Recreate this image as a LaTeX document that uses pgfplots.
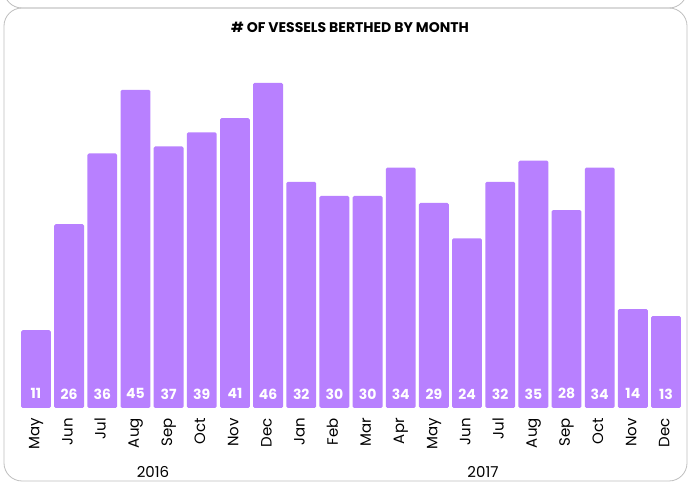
\documentclass[border=0pt]{standalone}
\usepackage{pgfplots}
\pgfplotsset{compat=1.18}
\usepackage{fontspec}
\setmainfont{Poppins}
\definecolor{barc}{RGB}{184,128,255}
\definecolor{frame}{RGB}{190,190,190}
\begin{document}
\begin{tikzpicture}[x=1pt,y=1pt]
\useasboundingbox (0,0) rectangle (689,482);
\begin{scope}
\clip (0,0) rectangle (689,482);
\draw[frame, line width=0.8pt, rounded corners=18pt] (4,474) rectangle (687,560);
\draw[frame, line width=0.8pt, rounded corners=18pt] (4,1) rectangle (687,474);
\end{scope}
\node[font=\bfseries\fontsize{14}{16}\selectfont] at (350,455) {\# OF VESSELS BERTHED BY MONTH};
\begin{axis}[
  at={(19.4pt,74pt)}, anchor=south west,
  scale only axis, width=663.2pt, height=353.5pt,
  xmin=-0.5, xmax=19.5, ymin=0, ymax=50,
  axis line style={draw=none},
  ymajorticks=false,
  xtick={0,...,19},
  xticklabels={May,Jun,Jul,Aug,Sep,Oct,Nov,Dec,Jan,Feb,Mar,Apr,May,Jun,Jul,Aug,Sep,Oct,Nov,Dec},
  xtick style={draw=none},
  xticklabel style={rotate=90, anchor=east, font=\fontsize{15}{17}\selectfont, inner sep=0pt},
  xticklabel shift=10pt,
  major tick length=0pt,
  typeset ticklabels with strut=false,
  clip=false,
]
\addplot[ybar, bar width=0.9, fill=barc, draw=none, rounded corners=1.5pt] coordinates {
(0,11) (1,26) (2,36) (3,45) (4,37) (5,39) (6,41) (7,46)
(8,32) (9,30) (10,30) (11,34) (12,29) (13,24) (14,32) (15,35) (16,28) (17,34) (18,14) (19,13)
};
\addplot[only marks, mark=none, point meta=explicit symbolic,
  nodes near coords={\pgfplotspointmeta}, nodes near coords align={center},
  every node near coord/.append style={text=white, font=\bfseries\fontsize{14}{16}\selectfont, anchor=center}]
coordinates {
(0,2)[11] (1,2)[26] (2,2)[36] (3,2)[45] (4,2)[37] (5,2)[39] (6,2)[41] (7,2)[46]
(8,2)[32] (9,2)[30] (10,2)[30] (11,2)[34] (12,2)[29] (13,2)[24] (14,2)[32] (15,2)[35] (16,2)[28] (17,2)[34] (18,2)[14] (19,2)[13]
};
\end{axis}
\node[font=\fontsize{15}{17}\selectfont] at (153,10) {2016};
\node[font=\fontsize{15}{17}\selectfont] at (483,10) {2017};
\end{tikzpicture}
\end{document}
